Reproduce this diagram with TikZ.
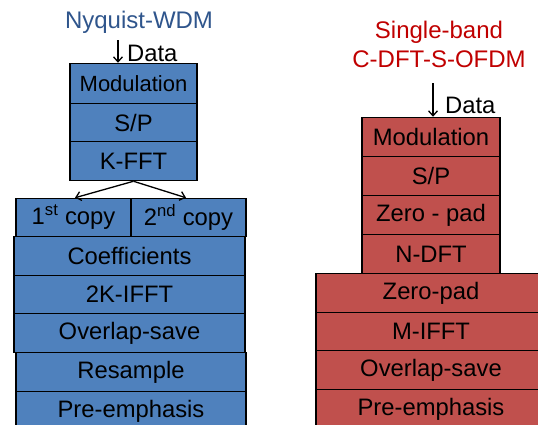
\documentclass[tikz,border=0pt]{standalone}
\usepackage{fontspec}
\setmainfont{Liberation Sans}
\usetikzlibrary{arrows.meta}
\definecolor{bluefill}{RGB}{79,129,189}
\definecolor{redfill}{RGB}{192,80,77}
\definecolor{titleblue}{RGB}{47,85,140}
\definecolor{titlered}{RGB}{192,0,0}
\begin{document}
\begin{tikzpicture}[x=1pt,y=1pt,
  lbl/.style={font=\fontsize{23.8}{27}\selectfont},
  bbox/.style={draw=black,line width=1.5pt,fill=bluefill,inner sep=0pt,lbl},
  rbox/.style={draw=black,line width=1.5pt,fill=redfill,inner sep=0pt,lbl},
  arr/.style={line width=1.3pt,-{Straight Barb[length=5pt,width=9pt]}}]
\useasboundingbox (0,0) rectangle (538,-424);
% ---------- left: Nyquist-WDM ----------
\node[text=titleblue,lbl,font=\fontsize{24}{27}\selectfont] (tl) at (139,-22) {Nyquist-WDM};
\node[bbox,minimum width=127pt,minimum height=40pt,font=\fontsize{22}{26}\selectfont] (mod) at (133.5,-83.5) {Modulation};
\node[bbox,minimum width=127pt,minimum height=38pt] (sp) at (133.5,-122.5) {S/P};
\node[bbox,minimum width=127pt,minimum height=39pt] (kfft) at (133.5,-161) {K-FFT};
\node[bbox,minimum width=115pt,minimum height=38pt] (c1) at (73.5,-217.5) {1\textsuperscript{st} copy};
\node[bbox,minimum width=115pt,minimum height=38pt] (c2) at (188.5,-217.5) {2\textsuperscript{nd} copy};
\node[bbox,minimum width=231pt,minimum height=39pt] (coef) at (129.5,-256) {Coefficients};
\node[bbox,minimum width=231pt,minimum height=38pt] (ifft) at (129.5,-294.5) {2K-IFFT};
\node[bbox,minimum width=231pt,minimum height=39pt] (ols) at (129.5,-333) {Overlap-save};
\node[bbox,minimum width=230pt,minimum height=39pt] (res) at (131,-372) {Resample};
\node[bbox,minimum width=230pt,minimum height=39pt] (pre) at (131,-411) {Pre-emphasis};
\coordinate (dl) at (118,-40);
\draw[arr] (dl) -- (dl |- mod.north);
\node[lbl,anchor=west,inner sep=0pt] (datal) at (127,-53) {Data};
\draw[arr] (kfft.south) -- ([xshift=1.5pt]c1.north);
\draw[arr] (kfft.south) -- ([xshift=-2.5pt]c2.north);
% ---------- right: Single-band C-DFT-S-OFDM ----------
\node[text=titlered,lbl,font=\fontsize{24}{29}\selectfont,align=center] (tr) at (439,-44.5) {Single-band\\C-DFT-S-OFDM};
\node[rbox,minimum width=138pt,minimum height=39pt] (rmod) at (431,-137) {Modulation};
\node[rbox,minimum width=138pt,minimum height=39pt] (rsp) at (431,-176) {S/P};
\node[rbox,minimum width=138pt,minimum height=39pt] (rzp) at (431,-215) {Zero - pad};
\node[rbox,minimum width=138pt,minimum height=39pt] (rdft) at (431,-254) {N-DFT};
\node[rbox,minimum width=230pt,minimum height=39pt] (rzp2) at (431,-293) {Zero-pad};
\node[rbox,minimum width=230pt,minimum height=38pt] (rifft) at (431,-331.5) {M-IFFT};
\node[rbox,minimum width=230pt,minimum height=39pt] (rols) at (431,-370) {Overlap-save};
\node[rbox,minimum width=230pt,minimum height=39pt] (rpre) at (431,-409) {Pre-emphasis};
\coordinate (dr) at (433,-83);
\draw[arr] (dr) -- (dr |- rmod.north);
\node[lbl,anchor=west,inner sep=0pt] (datar) at (445,-105) {Data};
\end{tikzpicture}
\end{document}
